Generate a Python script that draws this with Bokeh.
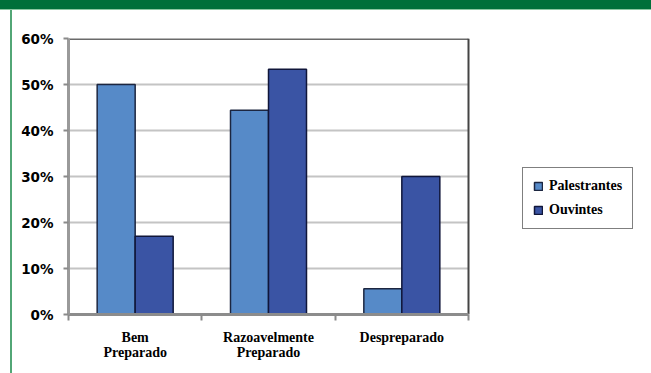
from bokeh.plotting import figure
from bokeh.models import (ColumnDataSource, Range1d, FixedTicker, NumeralTickFormatter,
                          Legend, LegendItem, Div)
from bokeh.layouts import column, row
from bokeh.transform import dodge
from bokeh.embed import file_html
from bokeh.resources import INLINE

# Survey shares by preparation level
categories = ["Bem\nPreparado", "Razoavelmente\nPreparado", "Despreparado"]
palestrantes = [0.50, 0.444, 0.056]
ouvintes = [0.17, 0.533, 0.30]
y_ticks = [0.0, 0.1, 0.2, 0.3, 0.4, 0.5, 0.6]

LIGHT = "#568ac8"
DARK = "#3a54a4"
EDGE = "#1c2640"
GREEN = "#00703a"

n = len(categories)
centers = [i + 0.5 for i in range(n)]
source = ColumnDataSource(dict(x=centers, pal=palestrantes, ouv=ouvintes))

# The frame runs under the legend too; the bar box itself covers 400 of its 572 px.
PLOT_PX, FRAME_PX = 400, 572
x_end = n * FRAME_PX / PLOT_PX
y_top = y_ticks[-1]

p = figure(width=639, height=363, x_range=Range1d(0, x_end), y_range=Range1d(0, y_top),
           output_backend="svg", toolbar_location=None,
           min_border_left=56, min_border_right=639 - 56 - FRAME_PX,
           min_border_top=28, min_border_bottom=59)
p.background_fill_color = "white"
p.border_fill_color = "white"
p.outline_line_color = None
p.xgrid.visible = False
p.ygrid.visible = False

# horizontal grid lines, limited to the bar box
p.segment(x0=0, x1=n, y0=y_ticks[1:-1], y1=y_ticks[1:-1], line_color="#c4c4c4",
          line_width=2, level="underlay")
# box edges: top and right
p.segment(x0=0, x1=n, y0=y_top, y1=y_top, line_color="#6a6a6a", line_width=3)
p.segment(x0=n, x1=n, y0=0, y1=y_top, line_color="#444444", line_width=2)

bar_w = 0.285
r_pal = p.vbar(x=dodge("x", -bar_w / 2), top="pal", width=bar_w, bottom=0, source=source,
               fill_color=LIGHT, line_color=EDGE, line_width=1.5)
r_ouv = p.vbar(x=dodge("x", bar_w / 2), top="ouv", width=bar_w, bottom=0, source=source,
               fill_color=DARK, line_color="#10163a", line_width=1.5)

# y axis
ya = p.yaxis[0]
ya.ticker = FixedTicker(ticks=y_ticks)
ya.formatter = NumeralTickFormatter(format="0%")
ya.axis_line_color = "#9a9a9a"
ya.axis_line_width = 3
ya.major_tick_out = 5
ya.major_tick_in = 0
ya.major_tick_line_color = "#8a8a8a"
ya.major_tick_line_width = 2
ya.minor_tick_line_color = None
ya.major_label_standoff = 10
ya.major_label_text_font = "DejaVu Sans"
ya.major_label_text_font_style = "bold"
ya.major_label_text_font_size = "13.5px"
ya.major_label_text_color = "black"

# x axis: labels at group centres, ticks between groups
xa = p.xaxis[0]
xa.bounds = (0, n)
xa.ticker = FixedTicker(ticks=centers, minor_ticks=list(range(n + 1)))
xa.major_label_overrides = {c: lab for c, lab in zip(centers, categories)}
xa.axis_line_color = "#8c8c8c"
xa.axis_line_width = 3
xa.major_tick_out = 0
xa.major_tick_in = 0
xa.major_tick_line_color = None
xa.minor_tick_out = 6
xa.minor_tick_in = 0
xa.minor_tick_line_color = "#8a8a8a"
xa.minor_tick_line_width = 2
xa.major_label_standoff = 9
xa.major_label_text_font = "Liberation Serif"
xa.major_label_text_font_style = "bold"
xa.major_label_text_font_size = "14px"
xa.major_label_text_line_height = 1.05
xa.major_label_text_color = "black"

legend = Legend(items=[LegendItem(label="Palestrantes", renderers=[r_pal]),
                       LegendItem(label="Ouvintes", renderers=[r_ouv])],
                location=(454, 85), margin=0, padding=10, spacing=8,
                glyph_width=10, glyph_height=10, label_standoff=6,
                border_line_color="black", border_line_width=1,
                background_fill_color="white", background_fill_alpha=1,
                label_text_font="Liberation Serif", label_text_font_style="bold",
                label_text_font_size="14px", label_text_color="black")
p.add_layout(legend, "center")

top_band = Div(width=651, height=10, margin=0,
               styles={"background-color": GREEN, "border-bottom": "1px solid #8cc7a2",
                       "box-sizing": "border-box"})
left_band = Div(width=12, height=363, margin=0,
                styles={"background": "linear-gradient(to right, #ffffff 0px, #ffffff 10px, "
                                      "#52a676 10px, #52a676 12px)"})
page = column(top_band, row(left_band, p, spacing=0), spacing=0)

open("out.html", "w").write(file_html(page, INLINE))
